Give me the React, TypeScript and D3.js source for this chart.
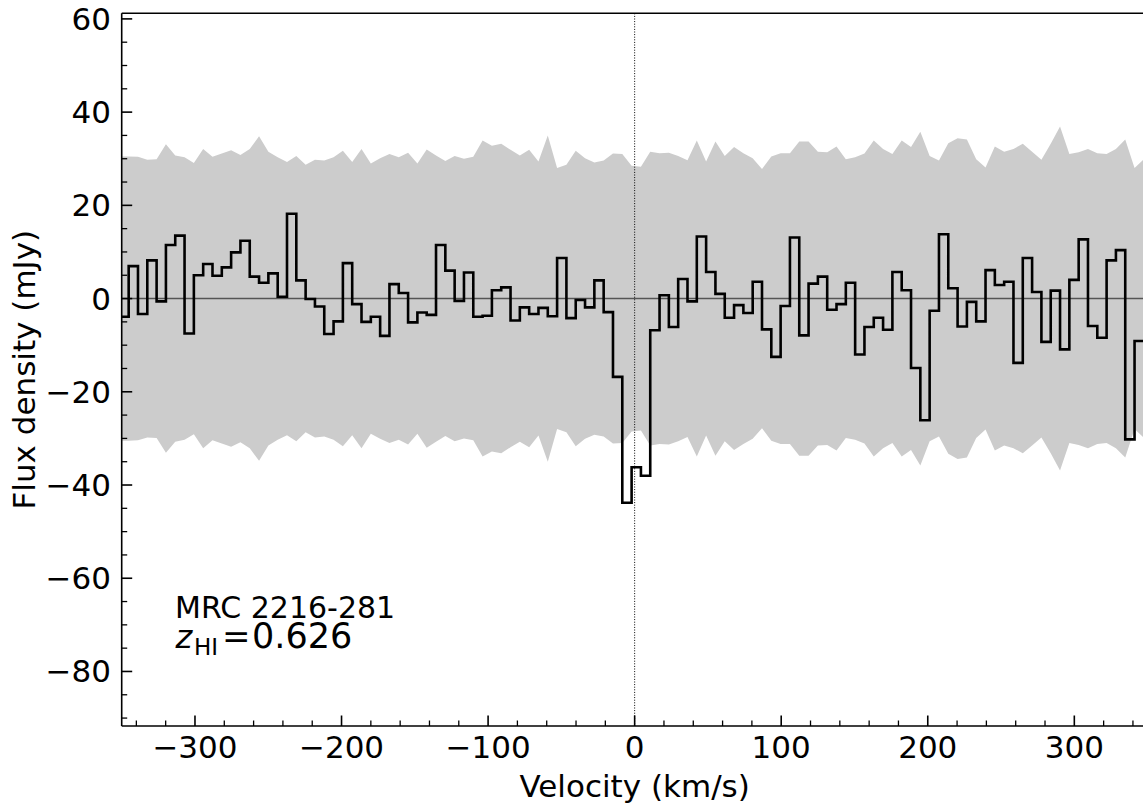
import React from "react";
import * as d3 from "d3";

// ---- data ----
const CHANNEL_WIDTH = 6.355; // km/s
const FIRST_EDGE = -351.6; // km/s, left edge of first channel

const flux = [
  -3.9, 6.95, -3.3, 8.2, -0.6, 11.5, 13.5, -7.5, 5.0, 7.4, 4.9, 6.7, 9.9, 12.4, 4.7, 3.4, 5.4, 0.4,
  18.2, 3.9, -0.1, -1.7, -7.6, -4.9, 7.6, -1.2, -5.0, -3.9, -8.0, 3.1, 1.2, -5.1, -3.0, -3.5, 11.5,
  6.0, -0.5, 5.6, -3.9, -3.7, 1.8, 2.4, -4.7, -1.9, -3.3, -2.0, -3.8, 8.7, -4.2, -0.3, -1.9, 3.9,
  -2.9, -16.8,
  -43.8, -36.2, -38.0, -6.8, 0.7, -6.1, 4.2, -0.6, 13.3, 5.7, 1.0, -4.1, -1.4, -3.1, 3.6, -6.6,
  -12.5, -1.6, 13.1, -7.9, 3.2, 4.7, -2.4, -1.2, 3.4, -12.0, -6.1, -4.1, -6.7, 5.7, 1.8, -14.9,
  -26.1, -2.6, 13.8, 2.2, -6.0, -0.7, -4.9, 6.1, 2.9, 3.6, -13.8, 8.7, 1.4, -9.3, 1.7, -10.9, 4.0,
  12.7, -5.9, -8.4, 8.2, 10.4, -30.2, -9.1,
];

// rms noise envelope (+/-), sampled at channel edges
const noise = [
  30.5, 30.5, 30.4, 29.8, 29.9, 33.1, 30.7, 30.3, 29.1, 32.1, 30.4, 31.1, 31.8, 30.8, 32.1, 34.8,
  31.5, 30.3, 29.3, 30.6, 28.7, 29.8, 29.6, 30.3, 31.7, 29.3, 32.1, 29.0, 30.1, 31.0, 30.3, 31.3,
  29.0, 32.0, 30.7, 29.5, 30.6, 30.0, 30.4, 33.9, 32.8, 33.2, 31.9, 30.7, 31.9, 29.4, 35.0, 28.0,
  28.7, 31.7, 30.1, 29.2, 29.6, 31.1, 31.0, 28.5, 28.3, 31.5, 31.2, 31.3, 30.6, 29.7, 33.9, 29.4,
  33.7, 30.6, 32.5, 31.2, 30.1, 27.8, 30.5, 31.2, 31.2, 33.7, 33.7, 31.5, 31.4, 32.6, 29.9, 30.3,
  31.1, 33.9, 32.1, 31.0, 33.9, 32.5, 35.8, 30.6, 29.6, 33.3, 34.4, 34.1, 29.9, 28.1, 32.6, 31.5,
  32.1, 33.2, 31.5, 29.8, 33.2, 36.9, 31.0, 31.4, 32.1, 31.2, 31.0, 32.1, 34.1, 28.0, 29.9,
];

const xMajorTicks = [-300, -200, -100, 0, 100, 200, 300];
const yMajorTicks = [-80, -60, -40, -20, 0, 20, 40, 60];
const xDomain = [-350, 350];
const yDomain = [-91.7, 61.2];
const sourceName = "MRC 2216-281";
const redshiftLabel = "0.626";

const W = 1143;
const H = 810;
const FONT = "'DejaVu Sans', sans-serif";

const fmt = (v: number) => (v < 0 ? "\u2212" + Math.abs(v) : String(v));

export default function App() {
  const left = 121.7,
    right = 1147.6,
    top = 13.3,
    bottom = 726;
  const x = d3.scaleLinear().domain(xDomain).range([left, right]);
  const y = d3.scaleLinear().domain(yDomain).range([bottom, top]);

  const edges = noise.map((_, i) => FIRST_EDGE + i * CHANNEL_WIDTH);

  const stepPts: [number, number][] = [];
  flux.forEach((f, i) => {
    stepPts.push([edges[i], f]);
    stepPts.push([edges[i + 1], f]);
  });
  const stepPath = d3
    .line<[number, number]>()
    .x((d) => x(d[0]))
    .y((d) => y(d[1]))(stepPts) as string;

  const bandPath = d3
    .area<number>()
    .x((_, i) => x(edges[i]))
    .y0((d) => y(-d))
    .y1((d) => y(d))(noise) as string;

  const xMinor = d3.range(-340, 341, 20).filter((v) => v % 100 !== 0);
  const yMinor = d3.range(-90, 61, 5).filter((v) => v % 20 !== 0);

  return (
    <div style={{ position: "absolute", left: 0, top: 0 }}>
      <svg width={W} height={H} style={{ display: "block", background: "#fff" }}>
        <defs>
          <clipPath id="plotclip">
            <rect x={left} y={top} width={right - left} height={bottom - top} />
          </clipPath>
        </defs>
        <g clipPath="url(#plotclip)">
          <path d={bandPath} fill="#cccccc" stroke="none" />
          <line x1={left} x2={right} y1={y(0)} y2={y(0)} stroke="#555" strokeWidth={1.4} />
          <path d={stepPath} fill="none" stroke="#000" strokeWidth={2.6} strokeLinejoin="miter" />
          <line
            x1={x(0)}
            x2={x(0)}
            y1={top}
            y2={bottom}
            stroke="#000"
            strokeWidth={1}
            strokeDasharray="1,1.6"
          />
        </g>

        {/* spines */}
        <line x1={left} x2={left} y1={top} y2={bottom} stroke="#000" strokeWidth={1.6} />
        <line x1={left} x2={right} y1={bottom} y2={bottom} stroke="#000" strokeWidth={1.6} />
        <line x1={left} x2={right} y1={top} y2={top} stroke="#000" strokeWidth={1.6} />
        <line x1={right} x2={right} y1={top} y2={bottom} stroke="#000" strokeWidth={1.6} />

        {/* x ticks */}
        {xMajorTicks.map((v) => (
          <g key={"xm" + v}>
            <line x1={x(v)} x2={x(v)} y1={bottom} y2={bottom - 10.5} stroke="#000" strokeWidth={1.6} />
            <text
              x={x(v)}
              y={758}
              textAnchor="middle"
              fontFamily={FONT}
              fontSize={31}
              fill="#000"
            >
              {fmt(v)}
            </text>
          </g>
        ))}
        {xMinor.map((v) => (
          <line key={"xn" + v} x1={x(v)} x2={x(v)} y1={bottom} y2={bottom - 5.5} stroke="#000" strokeWidth={1.3} />
        ))}

        {/* y ticks */}
        {yMajorTicks.map((v) => (
          <g key={"ym" + v}>
            <line x1={left} x2={left + 10.5} y1={y(v)} y2={y(v)} stroke="#000" strokeWidth={1.6} />
            <text
              x={111}
              y={y(v) + 11}
              textAnchor="end"
              fontFamily={FONT}
              fontSize={31}
              fill="#000"
            >
              {fmt(v)}
            </text>
          </g>
        ))}
        {yMinor.map((v) => (
          <line key={"yn" + v} x1={left} x2={left + 5.5} y1={y(v)} y2={y(v)} stroke="#000" strokeWidth={1.3} />
        ))}

        {/* axis labels */}
        <text x={(left + right) / 2} y={797} textAnchor="middle" fontFamily={FONT} fontSize={31} fill="#000">
          Velocity (km/s)
        </text>
        <text
          transform={`translate(35, ${(top + bottom) / 2}) rotate(-90)`}
          textAnchor="middle"
          fontFamily={FONT}
          fontSize={31}
          fill="#000"
        >
          Flux density (mJy)
        </text>

        {/* annotation */}
        <text x={175} y={618} fontFamily={FONT} fontSize={30} fill="#000">
          {sourceName}
        </text>
        <text x={175.5} y={648} fontFamily={FONT} fontSize={32} fontStyle="oblique" fill="#000">
          z
        </text>
        <text x={194} y={655} fontFamily={FONT} fontSize={23} fill="#000">
          HI
        </text>
        <text x={222} y={648} fontFamily={FONT} fontSize={34} fill="#000">
          =
        </text>
        <text x={252} y={648} fontFamily={FONT} fontSize={35} fill="#000">
          {redshiftLabel}
        </text>
      </svg>
    </div>
  );
}
